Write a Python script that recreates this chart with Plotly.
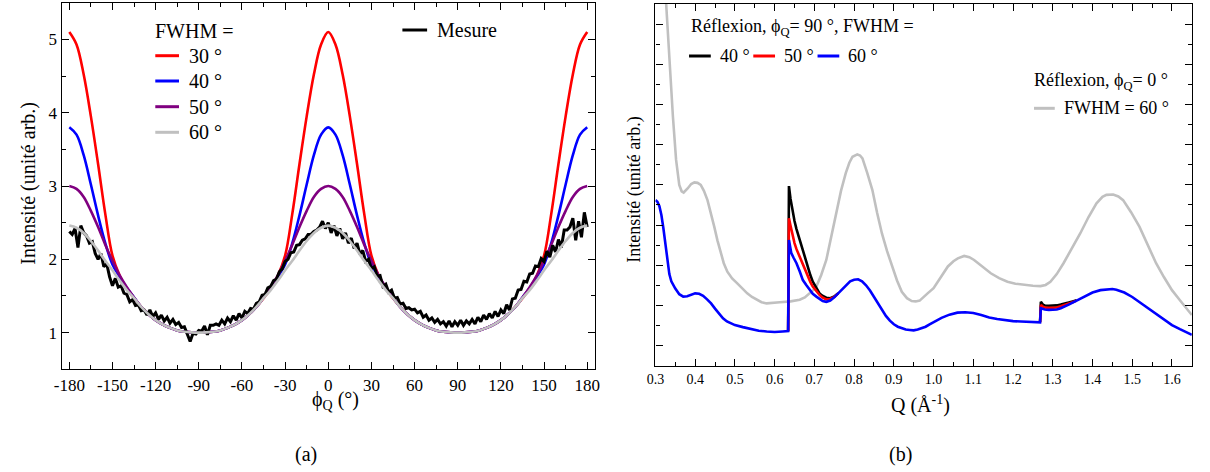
import plotly.graph_objects as go

FONT = "'Liberation Serif', 'Times New Roman', Times, 'DejaVu Serif', serif"
W, H = 1210, 472

# ---------------- Panel (a) data ----------------
PHI_MODEL = list(range(-180, 181, 5))
I_FWHM30 = [5.10, 4.93, 4.52, 3.95, 3.30, 2.62, 2.05, 1.78, 1.60, 1.47, 1.35, 1.25, 1.17, 1.11, 1.065, 1.03, 1.012, 1.003, 1.00,
            1.003, 1.012, 1.03, 1.065, 1.11, 1.17, 1.25, 1.35, 1.47, 1.60, 1.78, 2.05, 2.62, 3.30, 3.95, 4.52, 4.93, 5.10,
            4.93, 4.52, 3.95, 3.30, 2.62, 2.05, 1.78, 1.60, 1.47, 1.35, 1.25, 1.17, 1.11, 1.065, 1.03, 1.012, 1.003, 1.00,
            1.003, 1.012, 1.03, 1.065, 1.11, 1.17, 1.25, 1.35, 1.47, 1.60, 1.78, 2.05, 2.62, 3.30, 3.95, 4.52, 4.93, 5.10]
I_FWHM40 = [3.80, 3.70, 3.42, 3.02, 2.60, 2.22, 1.93, 1.76, 1.61, 1.48, 1.35, 1.25, 1.17, 1.11, 1.065, 1.03, 1.012, 1.003, 1.00,
            1.003, 1.012, 1.03, 1.065, 1.11, 1.17, 1.25, 1.35, 1.48, 1.61, 1.76, 1.93, 2.22, 2.60, 3.02, 3.42, 3.70, 3.80,
            3.70, 3.42, 3.02, 2.60, 2.22, 1.93, 1.76, 1.61, 1.48, 1.35, 1.25, 1.17, 1.11, 1.065, 1.03, 1.012, 1.003, 1.00,
            1.003, 1.012, 1.03, 1.065, 1.11, 1.17, 1.25, 1.35, 1.48, 1.61, 1.76, 1.93, 2.22, 2.60, 3.02, 3.42, 3.70, 3.80]
I_FWHM50 = [3.00, 2.96, 2.85, 2.66, 2.44, 2.20, 1.98, 1.78, 1.62, 1.48, 1.35, 1.25, 1.17, 1.11, 1.065, 1.03, 1.012, 1.003, 1.00,
            1.003, 1.012, 1.03, 1.065, 1.11, 1.17, 1.25, 1.35, 1.48, 1.62, 1.78, 1.98, 2.20, 2.44, 2.66, 2.85, 2.96, 3.00,
            2.96, 2.85, 2.66, 2.44, 2.20, 1.98, 1.78, 1.62, 1.48, 1.35, 1.25, 1.17, 1.11, 1.065, 1.03, 1.012, 1.003, 1.00,
            1.003, 1.012, 1.03, 1.065, 1.11, 1.17, 1.25, 1.35, 1.48, 1.62, 1.78, 1.98, 2.20, 2.44, 2.66, 2.85, 2.96, 3.00]
I_FWHM60 = [2.46, 2.43, 2.36, 2.25, 2.12, 1.98, 1.85, 1.71, 1.58, 1.47, 1.35, 1.25, 1.17, 1.11, 1.065, 1.03, 1.012, 1.003, 1.00,
            1.003, 1.012, 1.03, 1.065, 1.11, 1.17, 1.25, 1.35, 1.47, 1.58, 1.71, 1.85, 1.98, 2.12, 2.25, 2.36, 2.43, 2.46,
            2.43, 2.36, 2.25, 2.12, 1.98, 1.85, 1.71, 1.58, 1.47, 1.35, 1.25, 1.17, 1.11, 1.065, 1.03, 1.012, 1.003, 1.00,
            1.003, 1.012, 1.03, 1.065, 1.11, 1.17, 1.25, 1.35, 1.47, 1.58, 1.71, 1.85, 1.98, 2.12, 2.25, 2.36, 2.43, 2.46]

PHI_MEAS = list(range(-180, 181, 2))
I_MEAS = [2.38, 2.34, 2.42, 2.16, 2.46, 2.36, 2.32, 2.22, 2.24, 2.08,
          2.00, 2.08, 1.90, 1.94, 1.76, 1.64, 1.74, 1.62, 1.64, 1.54,
          1.52, 1.42, 1.45, 1.37, 1.38, 1.30, 1.31, 1.24, 1.31, 1.22,
          1.27, 1.18, 1.24, 1.16, 1.21, 1.13, 1.18, 1.11, 1.14, 1.07,
          1.08, 0.98, 0.88, 0.99, 0.98, 1.03, 1.02, 1.09, 0.97, 1.10,
          1.10, 1.12, 1.10, 1.17, 1.12, 1.20, 1.15, 1.23, 1.17, 1.26,
          1.20, 1.29, 1.26, 1.33, 1.32, 1.40, 1.42, 1.51, 1.52, 1.61,
          1.63, 1.71, 1.73, 1.83, 1.87, 1.97, 2.00, 2.09, 2.10, 2.19,
          2.20, 2.26, 2.28, 2.34, 2.34, 2.38, 2.40, 2.44, 2.52, 2.42,
          2.50, 2.36, 2.46, 2.32, 2.42, 2.28, 2.36, 2.22, 2.29, 2.15,
          2.22, 2.07, 2.12, 1.97, 2.00, 1.87, 1.90, 1.77, 1.78, 1.63,
          1.66, 1.55, 1.58, 1.47, 1.48, 1.39, 1.40, 1.33, 1.34, 1.31,
          1.32, 1.27, 1.29, 1.21, 1.24, 1.17, 1.20, 1.14, 1.18, 1.12,
          1.15, 1.09, 1.16, 1.08, 1.15, 1.10, 1.17, 1.10, 1.16, 1.12,
          1.18, 1.12, 1.21, 1.15, 1.24, 1.18, 1.26, 1.20, 1.29, 1.22,
          1.31, 1.26, 1.38, 1.31, 1.46, 1.47, 1.58, 1.59, 1.70, 1.69,
          1.80, 1.81, 1.91, 1.90, 2.01, 1.97, 2.11, 2.03, 2.19, 2.10,
          2.27, 2.16, 2.40, 2.40, 2.44, 2.56, 2.26, 2.52, 2.30, 2.64,
          2.44]

PHI_TICKS = [-180, -150, -120, -90, -60, -30, 0, 30, 60, 90, 120, 150, 180]
PHI_TICK_LABELS = ["-180", "-150", "-120", "-90", "-60", "-30", "0", "30", "60", "90", "120", "150", "180"]
Y_TICKS_A = [1, 2, 3, 4, 5]

# ---------------- Panel (b) data ----------------
Q_90 = [0.300, 0.305, 0.310, 0.315, 0.320, 0.325, 0.330, 0.335, 0.340, 0.350,
        0.360, 0.370, 0.380, 0.390, 0.400, 0.410, 0.420, 0.430, 0.440, 0.450,
        0.460, 0.470, 0.480, 0.490, 0.500, 0.520, 0.540, 0.560, 0.580, 0.600,
        0.620, 0.634, 0.636, 0.642, 0.648, 0.655, 0.663, 0.671, 0.680, 0.688,
        0.696, 0.705, 0.713, 0.721, 0.730, 0.740, 0.750, 0.760, 0.770, 0.780,
        0.790, 0.800, 0.810, 0.820, 0.830, 0.840, 0.850, 0.860, 0.870, 0.880,
        0.890, 0.900, 0.910, 0.920, 0.930, 0.940, 0.950, 0.960, 0.970, 0.980,
        0.990, 1.000, 1.020, 1.040, 1.060, 1.080, 1.100, 1.120, 1.140, 1.160,
        1.180, 1.200, 1.220, 1.240, 1.260, 1.268, 1.270, 1.280, 1.290, 1.300,
        1.310, 1.320, 1.330, 1.340, 1.360, 1.380, 1.400, 1.420, 1.440, 1.450,
        1.460, 1.480, 1.500, 1.520, 1.540, 1.560, 1.580, 1.600, 1.620, 1.640,
        1.650]
I_90_FWHM60 = [3.62, 3.58, 3.47, 3.25, 2.92, 2.50, 2.05, 1.78, 1.60, 1.42,
               1.28, 1.22, 1.23, 1.27, 1.30, 1.29, 1.24, 1.15, 1.05, 0.92,
               0.80, 0.68, 0.60, 0.55, 0.51, 0.46, 0.41, 0.37, 0.35, 0.34,
               0.35, 0.36, 2.63, 2.30, 2.18, 2.05, 1.85, 1.63, 1.50, 1.38,
               1.29, 1.22, 1.16, 1.11, 1.09, 1.12, 1.20, 1.30, 1.42, 1.52,
               1.60, 1.64, 1.65, 1.60, 1.50, 1.37, 1.21, 1.04, 0.88, 0.74,
               0.62, 0.53, 0.47, 0.43, 0.40, 0.39, 0.38, 0.40, 0.43, 0.47,
               0.53, 0.59, 0.69, 0.77, 0.82, 0.83, 0.81, 0.76, 0.70, 0.66,
               0.63, 0.61, 0.60, 0.59, 0.58, 0.58, 0.93, 0.90, 0.89, 0.89,
               0.90, 0.93, 0.97, 1.02, 1.12, 1.22, 1.32, 1.38, 1.41, 1.41,
               1.39, 1.32, 1.21, 1.07, 0.92, 0.77, 0.63, 0.51, 0.41, 0.32,
               0.27]

# Segments where the FWHM = 40 and 50 curves separate from the 60 curve
Q_90_SEP = [0.634, 0.636, 0.640, 0.645, 0.650, 0.655, 0.663, 0.670, 0.680, 0.690,
            0.696, 0.705, 0.713, 0.720, 0.730, 0.740, 0.750, 0.760, None,
            1.268, 1.270, 1.275, 1.280, 1.290, 1.300, 1.310, 1.320, 1.330, 1.340,
            1.350, 1.360]
I_90_FWHM40 = [0.36, 3.97, 3.65, 3.35, 3.10, 2.90, 2.63, 2.38, 2.05, 1.75,
               1.59, 1.42, 1.30, 1.24, 1.19, 1.18, 1.22, 1.30, None,
               0.58, 1.09, 1.02, 1.00, 0.99, 0.99, 1.00, 1.02, 1.04, 1.07,
               1.10, 1.13]
I_90_FWHM50 = [0.36, 3.17, 2.98, 2.72, 2.55, 2.40, 2.21, 2.02, 1.80, 1.58,
               1.47, 1.35, 1.26, 1.20, 1.15, 1.16, 1.21, 1.30, None,
               0.58, 1.01, 0.97, 0.95, 0.94, 0.94, 0.95, 0.98, 1.01, 1.05,
               1.08, 1.12]

Q_0 = [0.300, 0.310, 0.320, 0.327, 0.336, 0.344, 0.352, 0.360, 0.366, 0.371,
       0.381, 0.390, 0.398, 0.406, 0.414, 0.422, 0.431, 0.440, 0.448, 0.456,
       0.464, 0.472, 0.481, 0.493, 0.506, 0.518, 0.531, 0.543, 0.555, 0.567,
       0.580, 0.600, 0.613, 0.640, 0.663, 0.676, 0.688, 0.697, 0.705, 0.717,
       0.730, 0.742, 0.754, 0.767, 0.779, 0.788, 0.796, 0.808, 0.815, 0.821,
       0.833, 0.846, 0.858, 0.870, 0.883, 0.895, 0.908, 0.920, 0.933, 0.945,
       0.955, 0.965, 0.975, 0.985, 1.000, 1.018, 1.036, 1.050, 1.061, 1.077,
       1.090, 1.102, 1.120, 1.144, 1.165, 1.186, 1.206, 1.227, 1.250, 1.269,
       1.282, 1.294, 1.310, 1.327, 1.348, 1.369, 1.390, 1.410, 1.425, 1.435,
       1.452, 1.465, 1.477, 1.497, 1.518, 1.540, 1.560, 1.580, 1.600, 1.620,
       1.640, 1.650]
I_0_FWHM60 = [12.5, 10.8, 9.2, 8.5, 6.94, 5.70, 4.62, 4.00, 3.84, 3.81,
              3.91, 4.02, 4.06, 4.05, 4.00, 3.85, 3.62, 3.30, 2.96, 2.62,
              2.30, 2.05, 1.84, 1.67, 1.55, 1.42, 1.30, 1.21, 1.14, 1.08,
              1.05, 1.06, 1.08, 1.10, 1.14, 1.20, 1.30, 1.38, 1.47, 1.75,
              2.13, 2.70, 3.29, 3.85, 4.29, 4.55, 4.70, 4.76, 4.73, 4.66,
              4.30, 3.87, 3.30, 2.79, 2.35, 1.97, 1.62, 1.34, 1.18, 1.11,
              1.10, 1.12, 1.20, 1.30, 1.43, 1.70, 1.97, 2.10, 2.17, 2.23,
              2.20, 2.13, 1.98, 1.80, 1.68, 1.59, 1.54, 1.51, 1.49, 1.48,
              1.51, 1.59, 1.78, 2.05, 2.42, 2.79, 3.20, 3.54, 3.70, 3.75,
              3.76, 3.71, 3.62, 3.32, 2.96, 2.50, 2.05, 1.70, 1.38, 1.13,
              0.90, 0.76]

RED, BLUE, PURPLE, GRAY, BLACK = "#ff0000", "#0000ff", "#800080", "#c0c0c0", "#000000"

fig = go.Figure()

# Panel (a)
for yv, col in [(I_FWHM30, RED), (I_FWHM40, BLUE), (I_FWHM50, PURPLE)]:
    fig.add_trace(go.Scatter(x=PHI_MODEL, y=yv, mode="lines", line=dict(color=col, width=2.6, shape="spline"),
                             xaxis="x", yaxis="y", showlegend=False, hoverinfo="skip"))
fig.add_trace(go.Scatter(x=PHI_MEAS, y=I_MEAS, mode="lines", line=dict(color=BLACK, width=3),
                         xaxis="x", yaxis="y", showlegend=False, hoverinfo="skip"))
fig.add_trace(go.Scatter(x=PHI_MODEL, y=I_FWHM60, mode="lines", line=dict(color=GRAY, width=2.6, shape="spline"),
                         xaxis="x", yaxis="y", showlegend=False, hoverinfo="skip"))

# Panel (b)
fig.add_trace(go.Scatter(x=Q_0, y=I_0_FWHM60, mode="lines", line=dict(color=GRAY, width=2.6),
                         xaxis="x2", yaxis="y2", showlegend=False, hoverinfo="skip"))
fig.add_trace(go.Scatter(x=Q_90_SEP, y=I_90_FWHM40, mode="lines", line=dict(color=BLACK, width=2.6),
                         xaxis="x2", yaxis="y2", showlegend=False, hoverinfo="skip", connectgaps=False))
fig.add_trace(go.Scatter(x=Q_90_SEP, y=I_90_FWHM50, mode="lines", line=dict(color=RED, width=2.6),
                         xaxis="x2", yaxis="y2", showlegend=False, hoverinfo="skip", connectgaps=False))
fig.add_trace(go.Scatter(x=Q_90, y=I_90_FWHM60, mode="lines", line=dict(color=BLUE, width=2.6),
                         xaxis="x2", yaxis="y2", showlegend=False, hoverinfo="skip"))


def px(x):
    return x / W


def py(y):
    return 1 - y / H


def ax_common(size):
    return dict(showline=True, linecolor="black", linewidth=1.4, mirror="ticks", ticks="inside",
                ticklen=7, tickwidth=1.2, tickcolor="black", showgrid=False, zeroline=False,
                tickfont=dict(family=FONT, size=size, color="black"))


fig.update_layout(
    width=W, height=H, margin=dict(l=0, r=0, t=0, b=0),
    paper_bgcolor="white", plot_bgcolor="white",
    font=dict(family=FONT, color="black"),
    xaxis=dict(domain=[px(53.3), px(592.7)], range=[-185.3, 185.3], anchor="y",
               tickmode="array", tickvals=PHI_TICKS, ticktext=PHI_TICK_LABELS,
               minor=dict(tickmode="linear", tick0=-180, dtick=15, ticks="inside", ticklen=4,
                          tickwidth=1.2, tickcolor="black", showgrid=False),
               **ax_common(17)),
    yaxis=dict(domain=[py(369.3), py(2.7)], range=[0.5, 5.5], anchor="x",
               tickmode="array", tickvals=Y_TICKS_A,
               minor=dict(tickmode="linear", tick0=0.5, dtick=0.5, ticks="inside", ticklen=4,
                          tickwidth=1.2, tickcolor="black", showgrid=False),
               **ax_common(17)),
    xaxis2=dict(domain=[px(654), px(1196.7)], range=[0.3, 1.65], anchor="y2",
                tickmode="linear", tick0=0.3, dtick=0.1, tickformat=".1f",
                minor=dict(tickmode="linear", tick0=0.3, dtick=0.05, ticks="inside", ticklen=4,
                           tickwidth=1.2, tickcolor="black", showgrid=False),
                **ax_common(14)),
    yaxis2=dict(domain=[py(365.7), py(4)], range=[-0.5, 8.5], anchor="x2",
                tickmode="linear", tick0=0, dtick=1, showticklabels=False,
                minor=dict(tickmode="linear", tick0=0.5, dtick=0.5, ticks="inside", ticklen=4,
                           tickwidth=1.2, tickcolor="black", showgrid=False),
                **ax_common(14)),
)

shapes = []
annotations = []


def legline(x0, x1, y, col):
    shapes.append(dict(type="line", xref="paper", yref="paper", x0=px(x0), x1=px(x1), y0=py(y), y1=py(y),
                       line=dict(color=col, width=3)))


def text(x, y, s, size, xanchor="left", yanchor="middle", angle=0):
    annotations.append(dict(x=px(x), y=py(y), xref="paper", yref="paper", text=s, showarrow=False,
                            xanchor=xanchor, yanchor=yanchor, textangle=angle,
                            font=dict(family=FONT, size=size, color="black")))


# Panel (a) legend
text(146, 31, "FWHM =", 20)
for yy, col, lab in [(55.7, RED, "30 °"), (81, BLUE, "40 °"), (106.7, PURPLE, "50 °"), (132.3, GRAY, "60 °")]:
    legline(148, 172, yy, col)
    text(180, yy, lab, 20)
legline(398, 423, 30, BLACK)
text(431, 30, "Mesure", 20)

# Panel (b) legends
text(688, 28, "Réflexion, ϕ<sub>Q</sub>= 90 °, FWHM =", 18)
for x0, col, lab in [(688, BLACK, "40 °"), (753, RED, "50 °"), (818, BLUE, "60 °")]:
    legline(x0, x0 + 22, 56, col)
    text(x0 + 29, 56, lab, 18)
text(1035, 82, "Réflexion, ϕ<sub>Q</sub>= 0 °", 18)
legline(1037, 1058, 108.3, GRAY)
text(1065, 108.3, "FWHM = 60 °", 18)

# Axis titles
text(20, 183, "Intensité (unité arb.)", 20, xanchor="center", angle=-90)
text(632, 190, "Intensité (unité arb.)", 18, xanchor="center", angle=-90)
text(330, 400, "ϕ<sub>Q</sub> (°)", 20, xanchor="center")
text(922, 404, "Q (Å<sup>-1</sup>)", 20, xanchor="center")

# Sub-figure labels
text(300, 454, "(a)", 20, xanchor="center")
text(902, 454, "(b)", 20, xanchor="center")

fig.update_layout(shapes=shapes, annotations=annotations)

fig.write_html("out.html", config={"displayModeBar": False},
               post_script="document.body.style.margin='0';document.body.style.padding='0';")
